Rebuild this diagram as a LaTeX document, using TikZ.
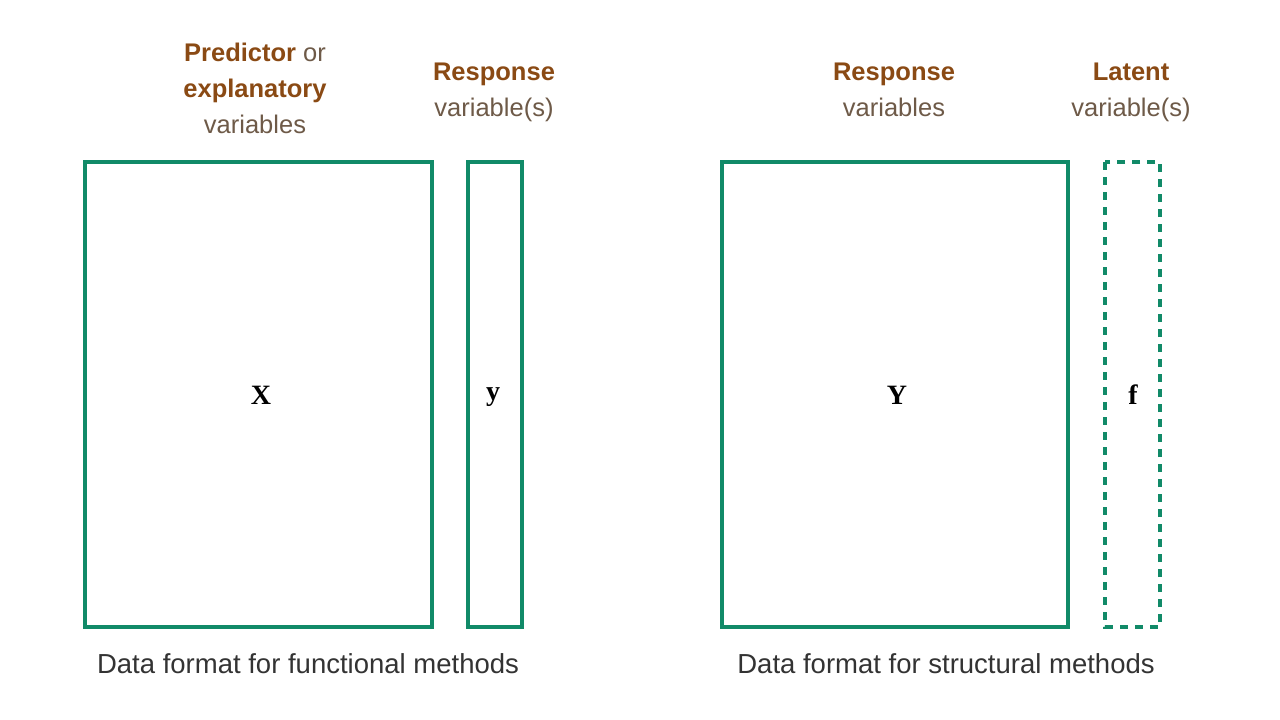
\documentclass[tikz,border=0pt]{standalone}
\usepackage{fontspec}
\setmainfont{Liberation Serif}
\setsansfont{Liberation Sans}
\definecolor{boxgreen}{HTML}{118A68}
\definecolor{headbrown}{HTML}{8A4A14}
\definecolor{headlight}{HTML}{6E5A48}
\definecolor{captiongray}{HTML}{333333}
\tikzset{
  matbox/.style={draw=boxgreen, line width=3.6pt},
  latbox/.style={draw=boxgreen, line width=3.6pt, dash pattern=on 8pt off 7pt},
  mlabel/.style={font=\fontsize{28}{32}\selectfont\bfseries, text=black},
  head/.style={font=\sffamily\fontsize{25.5}{36}\selectfont, text=headlight, align=center},
  capt/.style={font=\sffamily\fontsize{27.5}{30}\selectfont, text=captiongray},
}
\newcommand{\hb}[1]{\textcolor{headbrown}{\textbf{#1}}}
\begin{document}
\begin{tikzpicture}[x=1pt,y=-1pt]
\useasboundingbox (0,0) rectangle (1280,720);
\fill[white] (0,0) rectangle (1280,720);
% boxes
\draw[matbox] (85,162) rectangle (432,627);
\draw[matbox] (468,162) rectangle (522,627);
\draw[matbox] (722,162) rectangle (1068,627);
\draw[latbox] (1105,162) rectangle (1160,627);
\node[mlabel] (X) at (261,395) {X};
\node[mlabel] (y) at (493,397) {y};
\node[mlabel] (Y) at (897,395) {Y};
\node[mlabel] (f) at (1133,395) {f};
% headers
\node[head] (h1) at (255,90) {\strut\hb{Predictor} or\\\strut\hb{explanatory}\\\strut variables};
\node[head] (h2) at (494,91) {\strut\hb{Response}\\\strut variable(s)};
\node[head] (h3) at (894,91) {\strut\hb{Response}\\\strut variables};
\node[head] (h4) at (1131,91) {\strut\hb{Latent}\\\strut variable(s)};
% captions
\node[capt] (c1) at (308,664) {Data format for functional methods};
\node[capt] (c2) at (946,664) {Data format for structural methods};
\end{tikzpicture}
\end{document}
